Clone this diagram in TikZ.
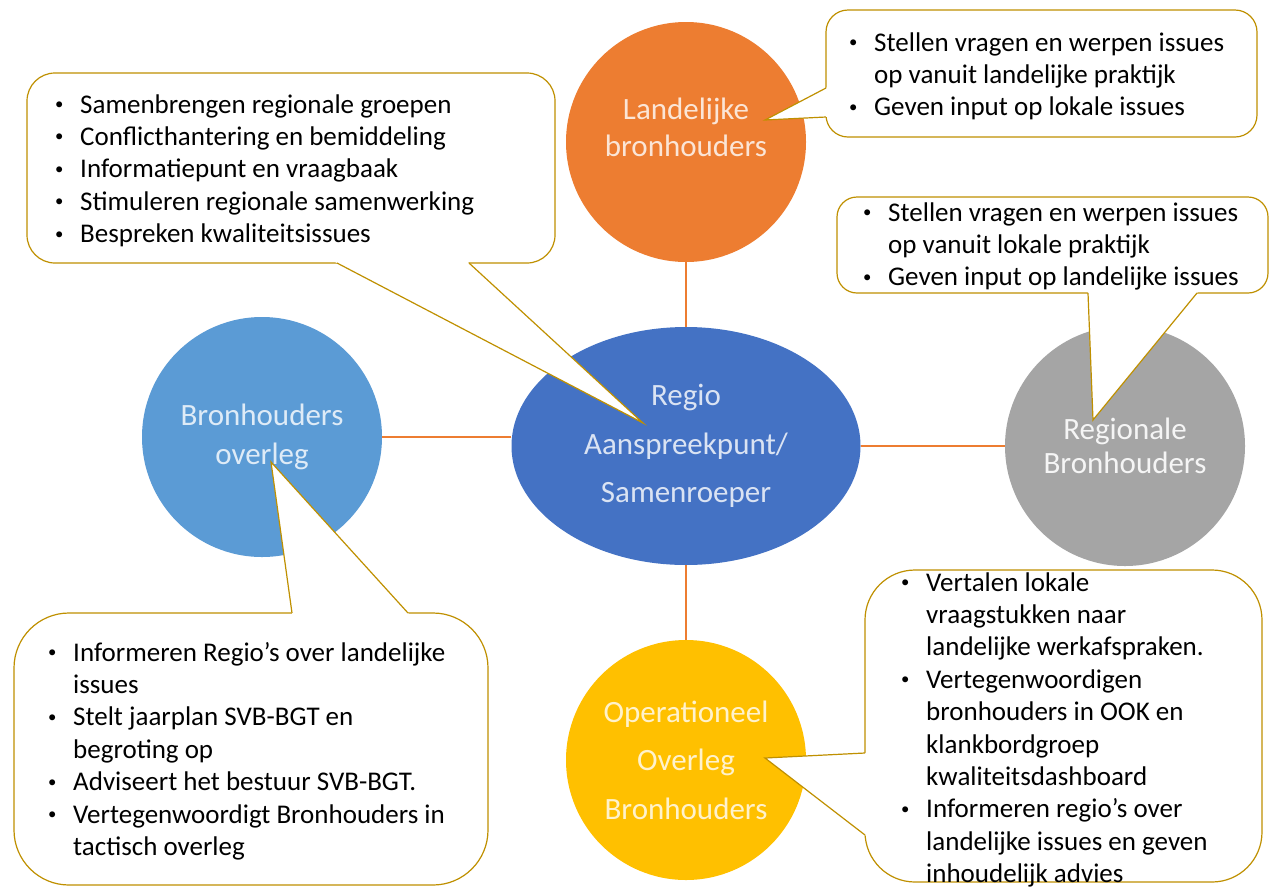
\documentclass[tikz,border=0pt]{standalone}
\usepackage{fontspec}
\usepackage{graphicx}
\setmainfont{Carlito}
\usetikzlibrary{shapes.geometric,calc}
\definecolor{corange}{HTML}{ED7D31}
\definecolor{ctorange}{HTML}{FBE5D6}
\definecolor{clblue}{HTML}{5B9BD5}
\definecolor{ctlblue}{HTML}{DEEBF7}
\definecolor{cblue}{HTML}{4472C4}
\definecolor{ctblue}{HTML}{DAE3F3}
\definecolor{cgray}{HTML}{A5A5A5}
\definecolor{ctgray}{HTML}{F5F5F5}
\definecolor{cyellow}{HTML}{FFC000}
\definecolor{ctyellow}{HTML}{FFF2CC}
\definecolor{cgold}{HTML}{BF9000}
\newcommand{\bitem}[1]{\par\noindent\hangindent=25pt\hangafter=1\makebox[25pt][l]{\raisebox{3.5pt}{\scalebox{0.62}{•}}}#1\par}
\tikzset{
  circ/.style={circle, inner sep=0pt, minimum size=240pt, align=center},
  conn/.style={draw=corange, line width=1.3pt},
  cbox/.style={draw=cgold, line width=1.2pt, fill=white},
  cptr/.style={draw=cgold, line width=1.2pt},
  ctext/.style={anchor=base west, inner sep=0pt, font=\fontsize{27}{32.4}\selectfont, text=black},
}
\begin{document}
\begin{tikzpicture}[x=1pt,y=-1pt]
\useasboundingbox (0,0) rectangle (1272,887);
\fill[white] (0,0) rectangle (1272,887);

% circles
\node[circ, fill=corange] (lb) at (686,142) {};
\node[align=center, inner sep=0pt, text=ctorange, font=\fontsize{31}{37}\selectfont] (lbt) at (686,127) {Landelijke\\bronhouders};
\node[circ, fill=clblue, text=ctlblue, font=\fontsize{31}{39}\selectfont] (bo) at (262,437) {Bronhouders\\overleg};
\node[circ, fill=cgray, text=ctgray, font=\fontsize{31}{34}\selectfont] (rb) at (1125,446) {Regionale\\Bronhouders};
\node[circ, fill=cyellow, text=ctyellow, font=\fontsize{31}{48.5}\selectfont] (ob) at (686,760) {Operationeel\\Overleg\\Bronhouders};
\node[ellipse, inner sep=0pt, minimum width=349pt, minimum height=238pt, fill=cblue, text=ctblue, align=center, font=\fontsize{31}{48.5}\selectfont] (rg) at (686,446) {Regio\\Aanspreekpunt/\\Samenroeper};

% connectors
\draw[conn] (lb) -- (rg);
\draw[conn] (bo.east) -- (bo.east -| rg.west);
\draw[conn] (rg) -- (rb);
\draw[conn] (rg) -- (ob);

% callout 1
\draw[cbox, rounded corners=28pt] (27,73) rectangle (555,263);
\coordinate (c1a) at (337,263); \coordinate (c1b) at (469,263); \coordinate (c1p) at (643,423);
\fill[white] ($(c1a)!-4pt!(c1p)$) -- (c1p) -- ($(c1b)!-4pt!(c1p)$) -- cycle;
\draw[cptr] (c1a) -- (c1p) -- (c1b);
\node[ctext] (c1x) at (55,113) {\begin{minipage}[t]{520pt}
\bitem{Samenbrengen regionale groepen}
\bitem{Conflicthantering en bemiddeling}
\bitem{Informatiepunt en vraagbaak}
\bitem{Stimuleren regionale samenwerking}
\bitem{Bespreken kwaliteitsissues}
\end{minipage}};

% callout 2
\draw[cbox, rounded corners=22pt] (826,10) rectangle (1257,137);
\coordinate (c2a) at (826,88); \coordinate (c2b) at (826,117); \coordinate (c2p) at (765,120);
\fill[white] ($(c2a)!-4pt!(c2p)$) -- (c2p) -- ($(c2b)!-4pt!(c2p)$) -- cycle;
\draw[cptr] (c2a) -- (c2p) -- (c2b);
\node[ctext] (c2x) at (849,51) {\begin{minipage}[t]{420pt}
\bitem{Stellen vragen en werpen issues\newline op vanuit landelijke praktijk}
\bitem{Geven input op lokale issues}
\end{minipage}};

% callout 3
\draw[cbox, rounded corners=20pt] (837,197) rectangle (1268,293);
\coordinate (c3a) at (1088,293); \coordinate (c3b) at (1197,293); \coordinate (c3p) at (1093,420);
\fill[white] ($(c3a)!-4pt!(c3p)$) -- (c3p) -- ($(c3b)!-4pt!(c3p)$) -- cycle;
\draw[cptr] (c3a) -- (c3p) -- (c3b);
\node[ctext] (c3x) at (863,221) {\begin{minipage}[t]{420pt}
\bitem{Stellen vragen en werpen issues\newline op vanuit lokale praktijk}
\bitem{Geven input op landelijke issues}
\end{minipage}};

% callout 4
\draw[cbox, rounded corners=55pt] (14,613) rectangle (488,885);
\coordinate (c4a) at (292,613); \coordinate (c4b) at (408,613); \coordinate (c4p) at (271,462);
\fill[white] ($(c4a)!-4pt!(c4p)$) -- (c4p) -- ($(c4b)!-4pt!(c4p)$) -- cycle;
\draw[cptr] (c4a) -- (c4p) -- (c4b);
\node[ctext] (c4x) at (48,661) {\begin{minipage}[t]{460pt}
\bitem{Informeren Regio’s over landelijke\newline issues}
\bitem{Stelt jaarplan SVB-BGT en\newline begroting op}
\bitem{Adviseert het bestuur SVB-BGT.}
\bitem{Vertegenwoordigt Bronhouders in\newline tactisch overleg}
\end{minipage}};

% callout 5
\draw[cbox, rounded corners=50pt] (865,570) rectangle (1262,882);
\coordinate (c5a) at (865,753); \coordinate (c5b) at (865,835); \coordinate (c5p) at (765,758);
\fill[white] ($(c5a)!-4pt!(c5p)$) -- (c5p) -- ($(c5b)!-4pt!(c5p)$) -- cycle;
\draw[cptr] (c5a) -- (c5p) -- (c5b);
\node[ctext] (c5x) at (901,591) {\begin{minipage}[t]{380pt}
\bitem{Vertalen lokale\newline vraagstukken naar\newline landelijke werkafspraken.}
\bitem{Vertegenwoordigen\newline bronhouders in OOK en\newline klankbordgroep\newline kwaliteitsdashboard}
\bitem{Informeren regio’s over\newline landelijke issues en geven\newline inhoudelijk advies}
\end{minipage}};
\end{tikzpicture}
\end{document}
